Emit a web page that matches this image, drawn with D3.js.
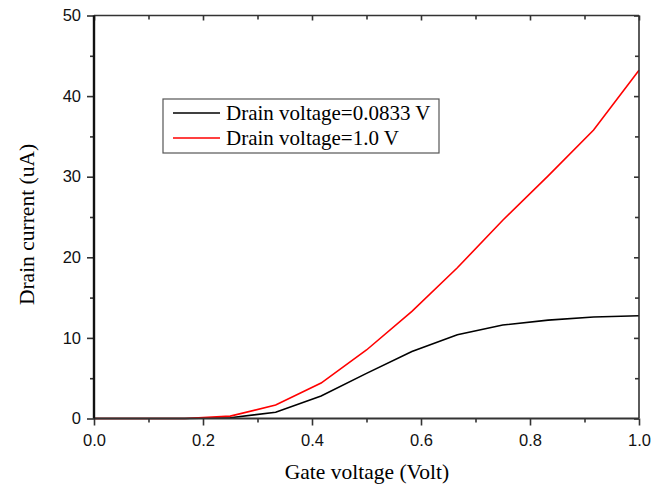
<!DOCTYPE html>
<html><head><meta charset="utf-8">
<script src="https://cdn.jsdelivr.net/npm/d3@7"></script>
<style>body{margin:0;background:#fff}</style>
</head><body>
<script>
const gateVoltage = [0, 0.0833, 0.1667, 0.25, 0.3333, 0.4167, 0.5, 0.5833, 0.6667, 0.75, 0.8333, 0.9167, 1.0];
const currentLow = [0, 0, 0, 0.1, 0.77, 2.8, 5.6, 8.3, 10.4, 11.6, 12.2, 12.6, 12.75];
const currentHigh = [0, 0, 0, 0.3, 1.67, 4.4, 8.5, 13.3, 18.7, 24.6, 30.1, 35.8, 43.2];
const seriesNames = ["Drain voltage=0.0833 V", "Drain voltage=1.0 V"];
const seriesColors = ["#000000", "#ff0000"];
const xTicks = [0, 0.2, 0.4, 0.6, 0.8, 1.0];
const yTicks = [0, 10, 20, 30, 40, 50];
const xLabel = "Gate voltage (Volt)";
const yLabel = "Drain current (uA)";

const W = 665, H = 485;
const m = {l: 94, r: 26, t: 15.5, b: 66.5};
const svg = d3.select("body").append("svg").attr("width", W).attr("height", H);
const x = d3.scaleLinear().domain([0, 1]).range([m.l, W - m.r]);
const y = d3.scaleLinear().domain([0, 50]).range([H - m.b, m.t]);
const x0 = x(0), x1 = x(1), y0 = y(0), y1 = y(50);

const xMinor = d3.range(0.1, 1, 0.2);
const yMinor = d3.range(5, 50, 10);

// lines
const series = [currentLow, currentHigh];
const line = d3.line().x((d, i) => x(gateVoltage[i])).y(d => y(d));
series.forEach((s, k) => {
  svg.append("path").datum(s).attr("d", line).attr("fill", "none")
    .attr("stroke", seriesColors[k]).attr("stroke-width", 1.6);
});

const axisCol = "#333";
const gb = svg.append("g").attr("transform", `translate(0,${y0})`)
  .call(d3.axisBottom(x).tickValues(xTicks).tickFormat(d3.format(".1f")).tickSize(7).tickPadding(9));
gb.append("g").call(d3.axisBottom(x).tickValues(xMinor).tickFormat("").tickSize(4));
const gl = svg.append("g").attr("transform", `translate(${x0},0)`)
  .call(d3.axisLeft(y).tickValues(yTicks).tickFormat(d3.format("d")).tickSize(7).tickPadding(6));
gl.append("g").call(d3.axisLeft(y).tickValues(yMinor).tickFormat("").tickSize(4));
const gt = svg.append("g").attr("transform", `translate(0,${y1})`)
  .call(d3.axisTop(x).tickValues(xTicks).tickFormat("").tickSize(-5));
gt.append("g").call(d3.axisTop(x).tickValues(xMinor).tickFormat("").tickSize(-4));
const gr = svg.append("g").attr("transform", `translate(${x1},0)`)
  .call(d3.axisRight(y).tickValues(yTicks).tickFormat("").tickSize(-5));
gr.append("g").call(d3.axisRight(y).tickValues(yMinor).tickFormat("").tickSize(-4));

[gb, gl, gt, gr].forEach(g => {
  g.selectAll("path.domain").remove();
  g.selectAll("line").attr("stroke", axisCol).attr("stroke-width", 1.6);
  g.selectAll("text").attr("font-family", "Liberation Sans, Arial, sans-serif")
    .attr("font-size", 16.5).attr("fill", "#111");
});
svg.append("line").attr("x1", x0).attr("x2", x1).attr("y1", y1).attr("y2", y1).attr("stroke", axisCol).attr("stroke-width", 1.6);
svg.append("line").attr("x1", x1).attr("x2", x1).attr("y1", y1).attr("y2", y0).attr("stroke", axisCol).attr("stroke-width", 1.6);
svg.append("line").attr("x1", x0).attr("x2", x1).attr("y1", y0).attr("y2", y0).attr("stroke", axisCol).attr("stroke-width", 2);
svg.append("line").attr("x1", x0).attr("x2", x0).attr("y1", y1).attr("y2", y0).attr("stroke", "#111").attr("stroke-width", 2.4);

const serif = "Liberation Serif, Times New Roman, serif";
svg.append("text").attr("x", 367).attr("y", 479).attr("text-anchor", "middle")
  .attr("font-family", serif).attr("font-size", 21.5).text(xLabel);
svg.append("text").attr("transform", `translate(34,224.5) rotate(-90)`).attr("text-anchor", "middle")
  .attr("font-family", serif).attr("font-size", 21.5).text(yLabel);

const lg = svg.append("g");
lg.append("rect").attr("x", 163).attr("y", 99).attr("width", 276).attr("height", 54)
  .attr("fill", "#fff").attr("stroke", "#555").attr("stroke-width", 1.2);
seriesNames.forEach((n, i) => {
  const yy = 113 + i * 25;
  lg.append("line").attr("x1", 173).attr("x2", 220).attr("y1", yy).attr("y2", yy)
    .attr("stroke", seriesColors[i]).attr("stroke-width", 1.6);
  lg.append("text").attr("x", 226).attr("y", yy + 7)
    .attr("font-family", serif).attr("font-size", 21).text(n);
});
</script>
</body></html>
